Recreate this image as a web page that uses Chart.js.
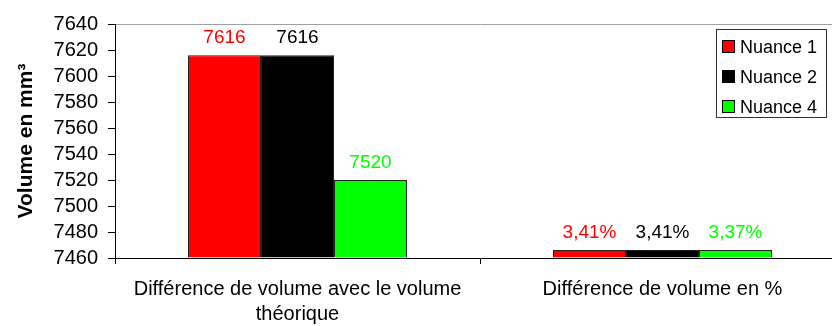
<!DOCTYPE html>
<html>
<head>
<meta charset="utf-8">
<script src="https://cdn.jsdelivr.net/npm/chart.js@4.4.0/dist/chart.umd.min.js"></script>
<style>
  body { margin: 0; background: #fff; }
  #wrap { width: 832px; height: 326px; overflow: hidden; }
</style>
</head>
<body>
<div id="wrap"><canvas id="myChart" width="850" height="326"></canvas></div>
<script>
var categories = [["Différence de volume avec le volume", "théorique"], "Différence de volume en %"];
var seriesNames = ["Nuance 1", "Nuance 2", "Nuance 4"];
var nuance1 = [7616, 3.41];
var nuance2 = [7616, 3.41];
var nuance4 = [7520, 3.37];
var yTicks = [7460, 7480, 7500, 7520, 7540, 7560, 7580, 7600, 7620, 7640];
var barColors = ["#ff0000", "#000000", "#00ff00"];

var allSeries = [nuance1, nuance2, nuance4];
var yMin = yTicks[0];
var yMax = yTicks[yTicks.length - 1];
var FONT = '"Liberation Sans", Arial, sans-serif';

// second category is a percentage, written like the excel sheet (comma decimal)
function formatValue(v, idx) {
  if (idx === 0) return String(v);
  return v.toFixed(2).replace('.', ',') + '%';
}

var barLabels = {
  id: 'barLabels',
  afterDatasetsDraw: function(chart) {
    var ctx = chart.ctx;
    ctx.save();
    ctx.font = '19px ' + FONT;
    ctx.textAlign = 'center';
    ctx.textBaseline = 'alphabetic';
    chart.data.datasets.forEach(function(ds, i) {
      chart.getDatasetMeta(i).data.forEach(function(bar, j) {
        ctx.fillStyle = barColors[i];
        ctx.fillText(formatValue(allSeries[i][j], j), bar.x, bar.y - 12);
      });
    });
    ctx.restore();
  }
};

// legend box sits inside the plot, top right
var boxLegend = {
  id: 'boxLegend',
  afterDraw: function(chart) {
    var ctx = chart.ctx;
    ctx.save();
    ctx.fillStyle = '#fff';
    ctx.fillRect(716.5, 29.5, 110, 88);
    ctx.strokeStyle = '#333';
    ctx.lineWidth = 1;
    ctx.strokeRect(716.5, 29.5, 110, 88);
    ctx.font = '18px ' + FONT;
    ctx.textBaseline = 'middle';
    ctx.textAlign = 'left';
    seriesNames.forEach(function(name, i) {
      var y = 47 + i * 30;
      ctx.fillStyle = barColors[i];
      ctx.fillRect(722.5, y - 6.5, 12, 12);
      ctx.strokeStyle = '#000';
      ctx.strokeRect(722.5, y - 6.5, 12, 12);
      ctx.fillStyle = '#000';
      ctx.fillText(name, 740, y + 1);
    });
    ctx.restore();
  }
};

new Chart("myChart", {
  type: "bar",
  data: {
    labels: categories,
    datasets: allSeries.map(function(vals, i) {
      return {
        label: seriesNames[i],
        data: vals.map(function(v) { return Math.max(v, yMin); }),
        backgroundColor: barColors[i],
        borderColor: '#222',
        borderWidth: 1,
        base: yMin,
        minBarLength: 8,
        categoryPercentage: 0.6,
        barPercentage: 1
      };
    })
  },
  options: {
    responsive: false,
    devicePixelRatio: 1,
    animation: false,
    events: [],
    layout: { padding: { top: 24, right: 5, bottom: 0, left: 0 } },
    plugins: {
      legend: { display: false },
      tooltip: { enabled: false }
    },
    scales: {
      x: {
        ticks: {
          color: '#000',
          font: { size: 20, family: FONT, lineHeight: 1.25 },
          padding: 13,
          maxRotation: 0,
          autoSkip: false
        },
        grid: { offset: true, drawOnChartArea: false, tickColor: '#000', tickLength: 6 },
        border: { color: '#000' },
        afterFit: function(scale) { scale.height = 68; }
      },
      y: {
        min: yMin,
        max: yMax,
        ticks: {
          stepSize: yTicks[1] - yTicks[0],
          autoSkip: false,
          color: '#000',
          font: { size: 20, family: FONT, lineHeight: 1 },
          padding: 10,
          callback: function(v) { return String(v); }
        },
        grid: {
          color: function(c) { return c.tick && c.tick.value === yMax ? '#a0a0a0' : 'rgba(0,0,0,0)'; },
          tickColor: '#000',
          tickLength: 7
        },
        border: { color: '#000' },
        title: {
          display: true,
          text: 'Volume en mm³',
          color: '#000',
          font: { size: 21, weight: 'bold', family: FONT },
          padding: { top: 14, bottom: 0 }
        },
        afterFit: function(scale) { scale.width = 115; }
      }
    }
  },
  plugins: [barLabels, boxLegend]
});
</script>
</body>
</html>
